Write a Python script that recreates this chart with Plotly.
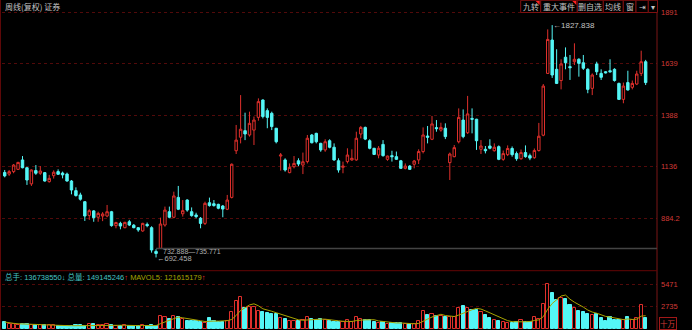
import plotly.graph_objects as go
import pandas as pd

# ---------------- data (weekly, forward-adjusted) ----------------
opens = [1108, 1100, 1112, 1123, 1169, 1131, 1052, 1117, 1104, 1107,
         1063, 1092, 1112, 1105, 1100, 1066, 1019, 998, 965, 898,
         920, 889, 895, 895, 916, 848, 859, 838, 867, 850,
         838, 822, 854, 838, 722, 737, 851, 916, 889, 986,
         906, 973, 916, 900, 884, 859, 960, 955, 952, 944,
         928, 986, 1214, 1280, 1312, 1291, 1315, 1377, 1462, 1410,
         1397, 1324, 1188, 1169, 1107, 1136, 1165, 1144, 1161, 1291,
         1299, 1250, 1218, 1263, 1231, 1165, 1133, 1161, 1169, 1169,
         1296, 1328, 1263, 1226, 1193, 1245, 1172, 1190, 1185, 1165,
         1128, 1139, 1148, 1169, 1210, 1286, 1270, 1327, 1315, 1324,
         1156, 1185, 1258, 1364, 1302, 1372, 1368, 1221, 1221, 1237,
         1214, 1234, 1172, 1195, 1225, 1200, 1175, 1205, 1190, 1180,
         1215, 1290, 1592, 1755, 1612, 1557, 1671, 1625, 1649, 1661,
         1644, 1612, 1519, 1638, 1592, 1600, 1605, 1612, 1543, 1465,
         1547, 1524, 1540, 1592, 1649]
highs = [1120, 1120, 1149, 1160, 1188, 1135, 1123, 1144, 1139, 1110,
         1096, 1118, 1123, 1112, 1107, 1071, 1035, 1009, 968, 928,
         924, 916, 914, 949, 920, 867, 867, 867, 876, 856,
         840, 862, 863, 845, 732.888, 887, 941, 941, 1014, 1042,
         973, 977, 937, 911, 890, 965, 985, 973, 955, 949,
         998, 1152, 1340, 1486, 1400, 1405, 1381, 1470, 1465, 1421,
         1405, 1325, 1203, 1177, 1152, 1188, 1177, 1205, 1291, 1296,
         1302, 1253, 1270, 1270, 1250, 1177, 1161, 1226, 1221, 1307,
         1335, 1332, 1270, 1228, 1237, 1266, 1190, 1214, 1210, 1169,
         1152, 1144, 1169, 1221, 1328, 1335, 1384, 1364, 1351, 1348,
         1205, 1242, 1421, 1416, 1482, 1421, 1370, 1266, 1237, 1270,
         1250, 1240, 1215, 1240, 1235, 1210, 1220, 1240, 1200, 1225,
         1350, 1540, 1807, 1827.838, 1710, 1661, 1719, 1682, 1739, 1666,
         1682, 1617, 1592, 1649, 1612, 1603, 1661, 1617, 1547, 1547,
         1605, 1557, 1605, 1703, 1658]
lows = [1084, 1091, 1104, 1120, 1128, 1047, 1042, 1096, 1096, 1063,
        1058, 1078, 1096, 1079, 1063, 1001, 990, 970, 871, 876,
        867, 867, 870, 889, 843, 835, 830, 835, 846, 835,
        818, 818, 840, 716, 692.458, 735.771, 843, 884, 884, 924,
        892, 916, 892, 884, 835, 851, 941, 941, 928, 889,
        924, 981, 1198, 1250, 1266, 1283, 1242, 1361, 1372, 1324,
        1315, 1250, 1117, 1112, 1104, 1128, 1139, 1100, 1152, 1250,
        1250, 1209, 1209, 1226, 1165, 1107, 1104, 1152, 1165, 1165,
        1275, 1266, 1221, 1193, 1177, 1185, 1165, 1161, 1169, 1125,
        1123, 1120, 1128, 1149, 1201, 1250, 1266, 1307, 1307, 1271,
        1071, 1182, 1250, 1275, 1296, 1299, 1218, 1198, 1201, 1221,
        1210, 1168, 1165, 1188, 1185, 1165, 1170, 1180, 1168, 1175,
        1210, 1285, 1589, 1570, 1540, 1514, 1612, 1560, 1633, 1576,
        1609, 1495, 1486, 1584, 1560, 1592, 1596, 1552, 1463, 1446,
        1508, 1514, 1535, 1579, 1535]
closes = [1091, 1112, 1144, 1157, 1131, 1071, 1120, 1104, 1115, 1066,
          1079, 1109, 1099, 1096, 1066, 1022, 995, 977, 895, 921,
          887, 908, 905, 916, 848, 863, 846, 864, 851, 838,
          827, 859, 848, 729, 712, 856, 924, 889, 993, 928,
          921, 924, 897, 892, 859, 957, 946, 946, 933, 929,
          973, 1148, 1266, 1319, 1296, 1348, 1364, 1454, 1381, 1377,
          1332, 1258, 1193, 1120, 1133, 1152, 1149, 1160, 1275, 1253,
          1258, 1218, 1258, 1231, 1169, 1120, 1139, 1193, 1177, 1275,
          1328, 1271, 1226, 1196, 1226, 1190, 1188, 1185, 1172, 1128,
          1139, 1123, 1164, 1210, 1291, 1280, 1345, 1322, 1328, 1283,
          1198, 1229, 1377, 1283, 1394, 1368, 1263, 1237, 1214, 1226,
          1231, 1172, 1200, 1225, 1195, 1175, 1205, 1185, 1178, 1215,
          1285, 1530, 1758, 1584, 1543, 1638, 1644, 1620, 1661, 1641,
          1617, 1514, 1584, 1600, 1573, 1595, 1600, 1557, 1465, 1530,
          1511, 1543, 1589, 1649, 1547]
# volume in units of 十万 (100k)
volumes = [867, 622, 622, 500, 622, 622, 541, 460, 500, 460,
           460, 460, 419, 378, 378, 419, 460, 460, 378, 582,
           582, 460, 460, 582, 460, 419, 419, 460, 419, 419,
           419, 460, 419, 460, 378, 1640, 1437, 1193, 1640, 1437,
           1193, 1030, 1030, 948, 907, 704, 1315, 1030, 907, 867,
           1030, 2047, 3472, 3960, 2536, 2739, 2739, 2251, 2129, 1925,
           1844, 1844, 1396, 1193, 1030, 1030, 1030, 1111, 1437, 1233,
           1111, 1193, 1070, 989, 907, 907, 907, 1070, 867, 1437,
           1233, 1070, 1070, 907, 704, 867, 622, 785, 785, 704,
           582, 582, 582, 989, 2210, 1722, 1844, 1640, 1640, 1437,
           1437, 1518, 2536, 2820, 2617, 2332, 2332, 2129, 1722, 1396,
           1111, 989, 867, 785, 785, 907, 1111, 907, 907, 1437,
           1274, 3065, 5471, 4367, 3553, 3757, 3634, 2943, 2536, 2251,
           2047, 1844, 1722, 1844, 1315, 1030, 1437, 1111, 1111, 1111,
           1437, 1111, 1315, 2943, 1367]

price_ticks = [884.2, 1136, 1388, 1639, 1891]
price_tick_labels = ["884.2", "1136", "1388", "1639", "1891"]
vol_ticks = [2735, 5471]
vol_tick_labels = ["2735", "5471"]
high_value = 1827.838
low_value = 692.458
gap_low = 732.888
gap_high = 735.771
title_text = "周线(复权) 证券"
button_labels = ["九转", "重大事件", "删自选", "均线", "窗", "⇥", "▾"]
total_hands = "136738550"
total_volume = "149145246"
mavol5_text = "121615179"

# ---------------- styling / layout ----------------
W, H = 692, 330
L_PX, R_PX = 2, 657
RED = "#e0302c"
CYAN = "#54f6f6"
AXRED = "#d23a36"
GRID = "#520a0a"
GRAY = "#c4c4c4"
FONT = "Liberation Sans, Arial, Noto Sans CJK SC"


def px_x(p):
    return (p - L_PX) / (R_PX - L_PX)


def px_y(p):
    return 1 - p / H


n = len(closes)
idx = list(range(n))
xmin, xmax = -0.607, n + 1.55

up_idx = [i for i in idx if closes[i] >= opens[i]]
dn_idx = [i for i in idx if closes[i] < opens[i]]
mavol = pd.Series(volumes).rolling(5, min_periods=1).mean()

fig = go.Figure()
fig.add_trace(go.Candlestick(
    x=idx, open=opens, high=highs, low=lows, close=closes,
    increasing=dict(line=dict(color=RED, width=1), fillcolor="#000000"),
    decreasing=dict(line=dict(color=CYAN, width=1), fillcolor=CYAN),
    xaxis="x", yaxis="y", showlegend=False, hoverinfo="skip"))

fig.add_trace(go.Bar(
    x=up_idx, y=[volumes[i] for i in up_idx], width=0.72,
    marker=dict(color="#000000", line=dict(color=RED, width=1)),
    xaxis="x", yaxis="y2", showlegend=False))
fig.add_trace(go.Bar(
    x=dn_idx, y=[volumes[i] for i in dn_idx], width=0.72,
    marker=dict(color=CYAN, line=dict(color=CYAN, width=1)),
    xaxis="x", yaxis="y2", showlegend=False))
fig.add_trace(go.Scatter(
    x=idx, y=mavol, mode="lines", line=dict(color="#a8a400", width=1),
    xaxis="x", yaxis="y2", showlegend=False))

main_dom = [px_y(268), 1]
vol_dom = [0, px_y(271)]

axis_common = dict(
    side="right", showgrid=True, gridcolor=GRID, griddash="dot", gridwidth=1,
    zeroline=False, showline=False, ticks="", ticklabelstandoff=3,
    tickfont=dict(family=FONT, size=7.5, color=AXRED), fixedrange=True)

fig.update_layout(
    width=W, height=H,
    margin=dict(l=L_PX, r=W - R_PX, t=0, b=0),
    paper_bgcolor="#000000", plot_bgcolor="#000000",
    bargap=0, barmode="overlay", boxgap=0.22,
    xaxis=dict(range=[xmin, xmax], showgrid=False, zeroline=False,
               showticklabels=False, showline=False, ticks="",
               rangeslider=dict(visible=False), fixedrange=True),
    yaxis=dict(domain=main_dom, range=[640.95, 1950.7],
               tickvals=price_ticks, ticktext=price_tick_labels, **axis_common),
    yaxis2=dict(domain=vol_dom, range=[-110, 7094], anchor="x",
                tickvals=vol_ticks, ticktext=vol_tick_labels, **axis_common),
    showlegend=False,
)

shapes = []
# frame lines
shapes.append(dict(type="line", xref="paper", yref="paper", x0=px_x(0.5), x1=px_x(0.5),
                   y0=0, y1=1, line=dict(color="#5e0808", width=1)))
shapes.append(dict(type="line", xref="paper", yref="paper", x0=1, x1=1,
                   y0=0, y1=1, line=dict(color="#7a1616", width=1)))
shapes.append(dict(type="line", xref="paper", yref="paper", x0=px_x(0), x1=1,
                   y0=px_y(270.7), y1=px_y(270.7), line=dict(color="#640606", width=1)))
# gap line
shapes.append(dict(type="line", xref="x", yref="y", x0=34, x1=xmax,
                   y0=gap_high, y1=gap_high, line=dict(color="#444444", width=1.5)))

# button bar
edges = [520.7, 540.7, 577.3, 603.3, 623.3, 636, 648.3, 657.5]
annotations = []
for k, lab in enumerate(button_labels):
    x0, x1 = edges[k], edges[k + 1]
    shapes.append(dict(type="rect", xref="paper", yref="paper",
                       x0=px_x(x0), x1=px_x(x1), y0=px_y(12.5), y1=px_y(0.3),
                       line=dict(color="#7e1010", width=1), fillcolor="#000000"))
    annotations.append(dict(xref="paper", yref="paper", x=px_x((x0 + x1) / 2),
                            y=px_y(6.5), text=lab, showarrow=False,
                            xanchor="center", yanchor="middle",
                            font=dict(family="Noto Sans CJK SC", size=8, color=GRAY)))
for k in (0, 1):
    xr = edges[k + 1] - 1
    shapes.append(dict(type="path", xref="paper", yref="paper",
                       path=f"M {px_x(xr-4)} {px_y(1)} L {px_x(xr)} {px_y(1)} L {px_x(xr)} {px_y(5)} Z",
                       fillcolor="#ff2020", line=dict(width=0)))

# title
annotations.append(dict(xref="paper", yref="paper", x=px_x(2.5), y=px_y(6),
                        text=title_text, showarrow=False, xanchor="left", yanchor="middle",
                        font=dict(family="Noto Sans CJK SC", size=8, color=GRAY)))
# volume legend
leg = (f'<span style="color:#46c4c4">总手: {total_hands}</span>'
       f'<span style="color:#46c4c4">↓</span> '
       f'<span style="color:#46c4c4">总量: {total_volume}</span>'
       f'<span style="color:#ff3030">↑</span> '
       f'<span style="color:#a8a400">MAVOL5: {mavol5_text}</span>'
       f'<span style="color:#ff3030">↑</span>')
annotations.append(dict(xref="paper", yref="paper", x=px_x(2.5), y=px_y(276.7),
                        text=leg, showarrow=False, xanchor="left", yanchor="middle",
                        font=dict(family="Liberation Sans, Noto Sans CJK SC", size=7.5)))
# high / low / gap labels
hi_i = highs.index(max(highs))
lo_i = lows.index(min(lows))
annotations.append(dict(xref="x", yref="y", x=hi_i, y=high_value, text=f"←{high_value:.3f}",
                        showarrow=False, xanchor="left", yanchor="middle", xshift=-1,
                        font=dict(family=FONT, size=8, color=GRAY)))
annotations.append(dict(xref="x", yref="y", x=lo_i, y=low_value, text=f"←{low_value:.3f}",
                        showarrow=False, xanchor="left", yanchor="middle", xshift=-1, yshift=-1,
                        font=dict(family=FONT, size=7.5, color="#b0b0b0")))
annotations.append(dict(xref="x", yref="y", x=lo_i, y=gap_high,
                        text=f"{gap_low:.3f}—{gap_high:.3f}",
                        showarrow=False, xanchor="left", yanchor="top", xshift=5, yshift=3,
                        font=dict(family=FONT, size=7, color="#b0b0b0")))
# unit label
annotations.append(dict(xref="paper", yref="paper", x=px_x(658.5), y=px_y(329.5),
                        text="十万", showarrow=False, xanchor="left", yanchor="bottom",
                        bordercolor="#a01818", borderwidth=1, borderpad=0,
                        font=dict(family="Noto Sans CJK SC", size=7.5, color=AXRED)))

fig.update_layout(shapes=shapes, annotations=annotations)
fig.write_html("out.html")
